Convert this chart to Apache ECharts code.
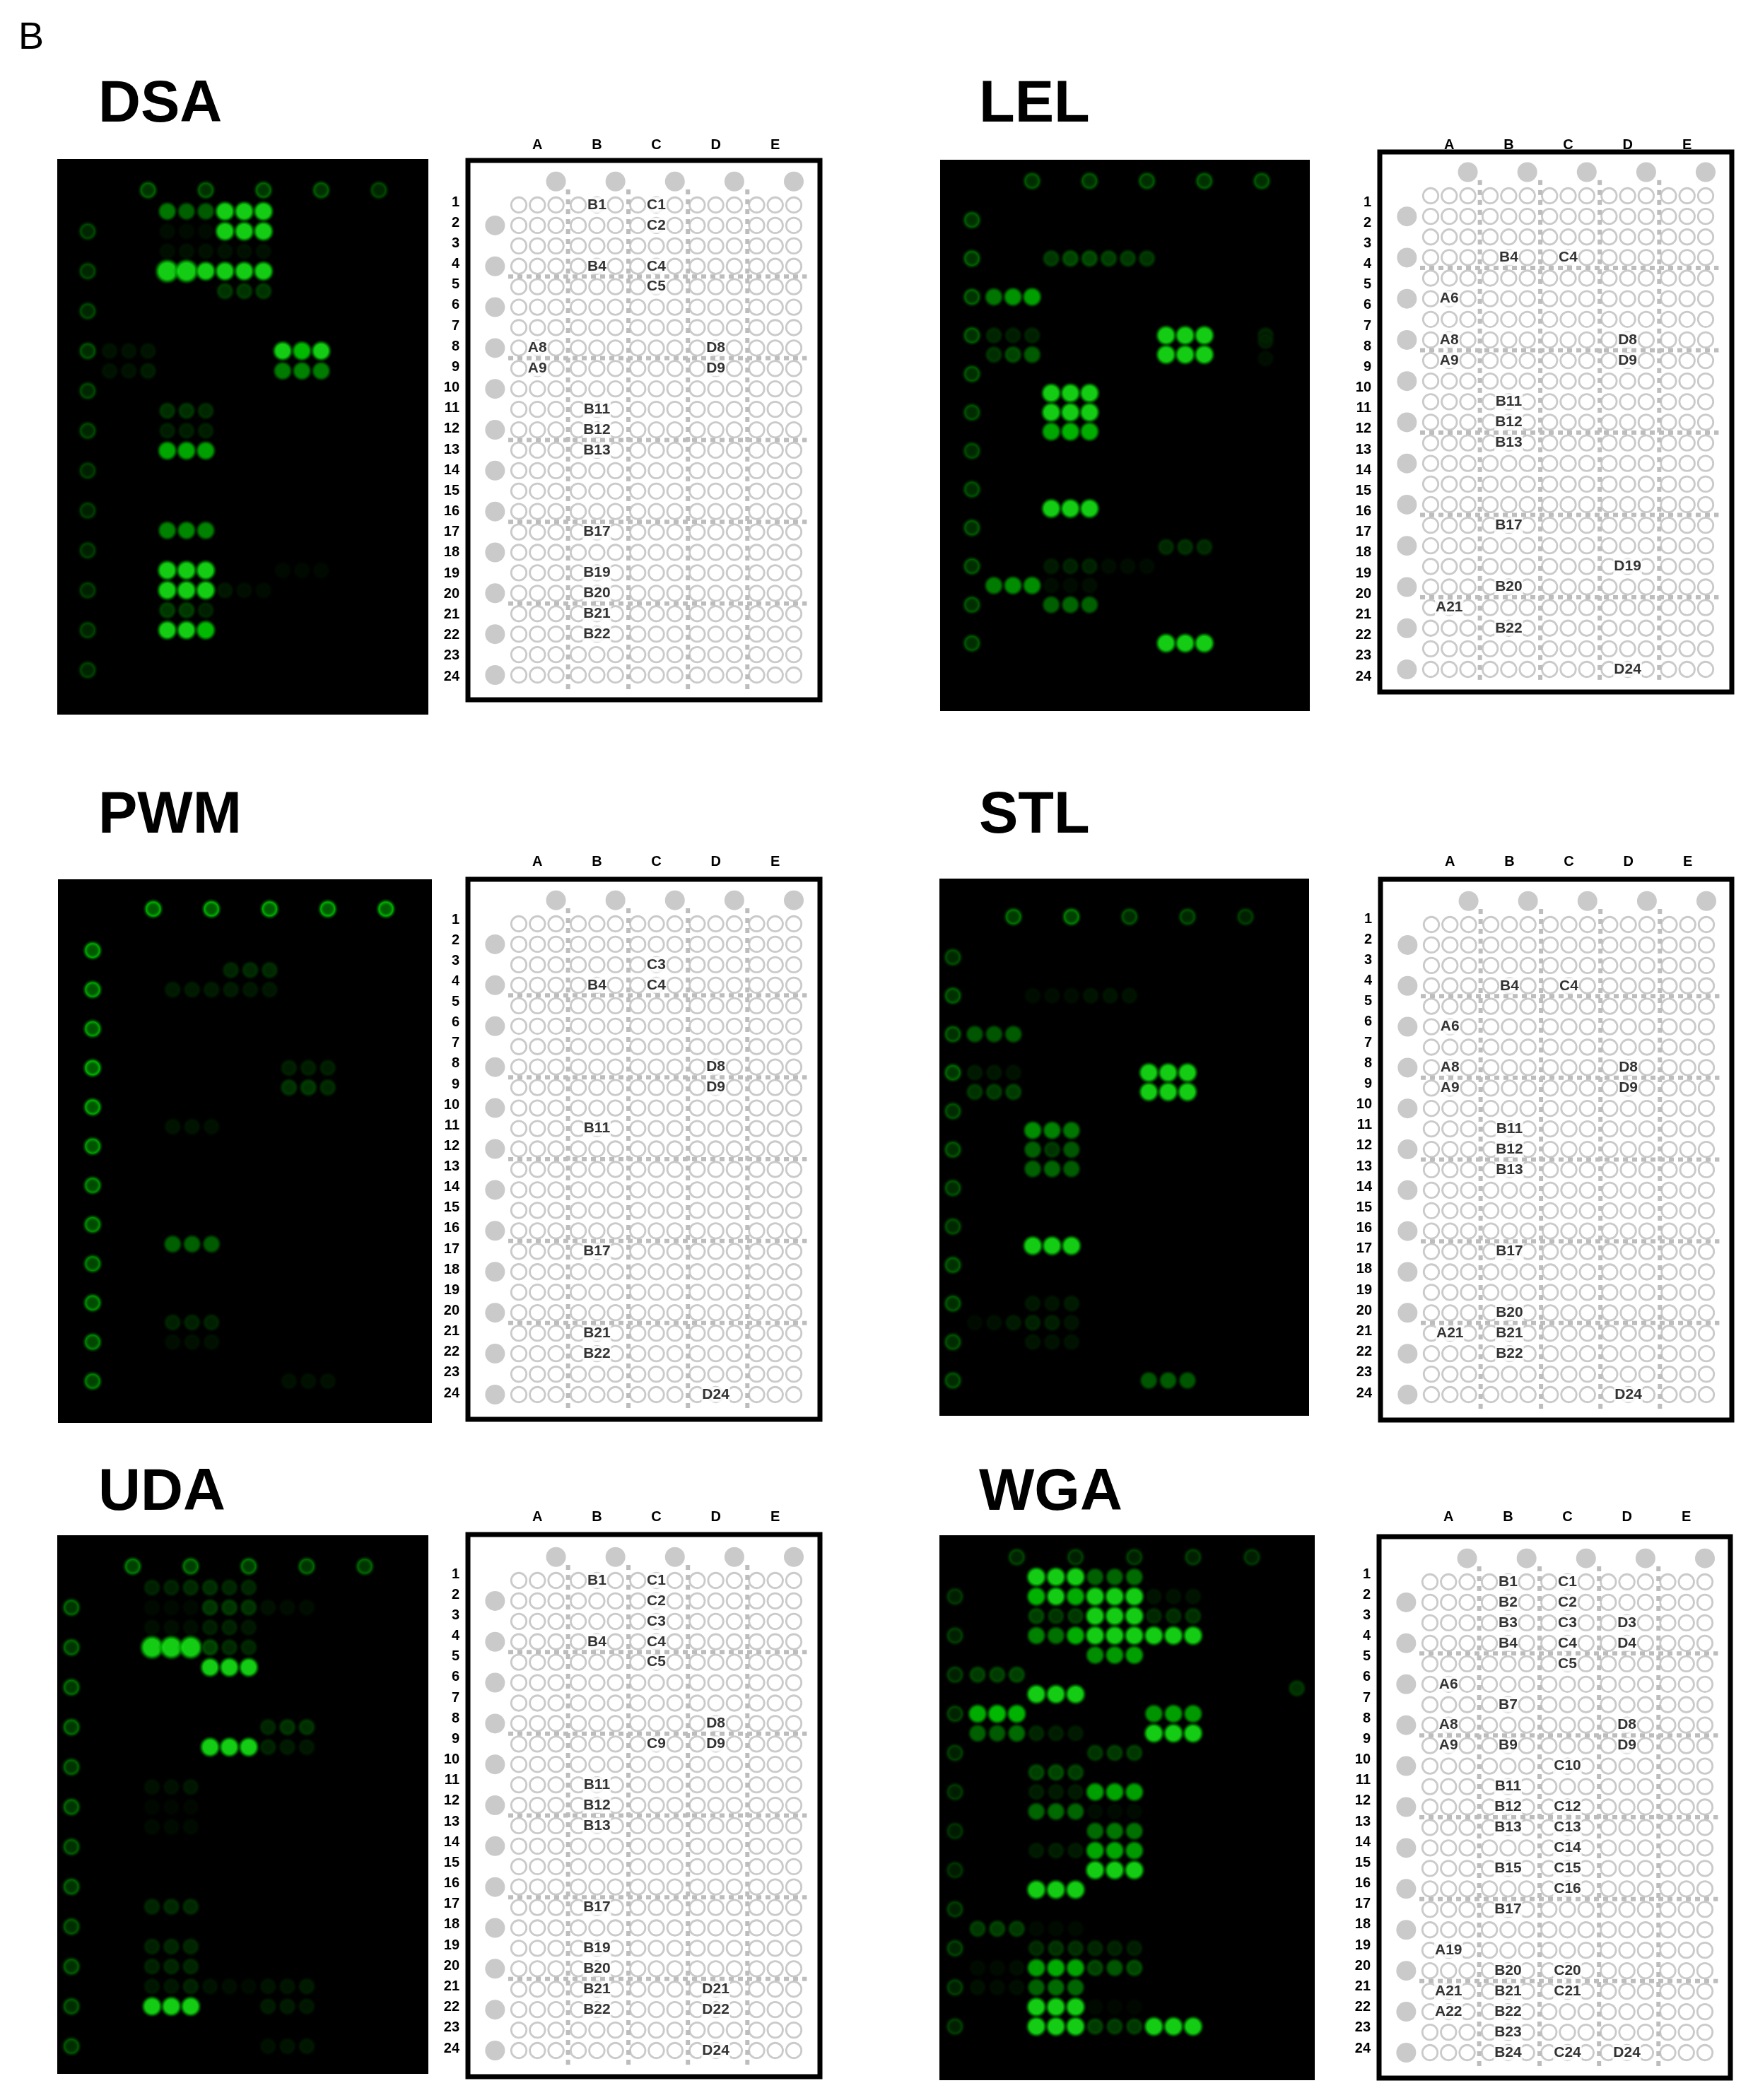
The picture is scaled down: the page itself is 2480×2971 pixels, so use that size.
<!DOCTYPE html>
<html>
<head>
<meta charset="utf-8">
<style>
  html, body { margin: 0; padding: 0; background: #fff; }
  #chart { width: 2480px; height: 2971px; }
</style>
<script src="https://cdn.jsdelivr.net/npm/echarts@6/dist/echarts.min.js"></script>
</head>
<body>
<div id="chart"></div>
<script>
// plate structure
const columnLetters = ["A", "B", "C", "D", "E"];
const wellColumns = [1, 2, 3, 4.2, 5.2, 6.2, 7.4, 8.4, 9.4, 10.6, 11.6, 12.6, 13.8, 14.8, 15.8];
const wellRows = [1, 2, 3, 4, 5, 6, 7, 8, 9, 10, 11, 12, 13, 14, 15, 16, 17, 18, 19, 20, 21, 22, 23, 24];
const letterColumns = [2, 5.2, 8.4, 11.6, 14.8];
const topDotColumns = [3, 6.2, 9.4, 12.6, 15.8];
const sideDotRows = [2, 4, 6, 8, 10, 12, 14, 16, 18, 20, 22, 24];
const dividerColumns = [3.65, 6.9, 10.1, 13.3];
const dividerRows = [4.5, 8.5, 12.5, 16.5, 20.5];

// green level of the three replicate spots of a well, 0-255
const dsaSpots = [
  ["B1", 130, 110, 105], ["C1", 230, 235, 235], ["B2", 20, 18, 18], ["C2", 225, 235, 235],
  ["B3", 22, 25, 25], ["C3", 28, 25, 25], ["B4", 255, 255, 235], ["C4", 235, 240, 240],
  ["C5", 75, 75, 75], ["A8", 28, 28, 32], ["D8", 190, 185, 190], ["A9", 28, 28, 42],
  ["D9", 135, 140, 135], ["B11", 68, 70, 60], ["B12", 45, 45, 45], ["B13", 170, 170, 165],
  ["B17", 140, 145, 140], ["B19", 240, 240, 240], ["D19", 15, 15, 15], ["B20", 240, 240, 240],
  ["C20", 35, 22, 18], ["B21", 80, 80, 50], ["B22", 190, 190, 185]
];
const lelSpots = [
  ["B4", 80, 95, 95], ["C4", 85, 80, 75], ["A6", 130, 155, 165], ["A8", 55, 45, 50],
  ["A9", 70, 95, 105], ["D8", 240, 245, 240], ["D9", 235, 240, 235], ["B11", 225, 230, 215],
  ["B12", 205, 215, 205], ["B13", 170, 180, 175], ["B17", 240, 245, 245], ["D19", 60, 65, 60],
  ["B20", 40, 50, 50], ["C20", 20, 20, 18], ["A21", 135, 150, 150], ["B21", 20, 18, 22],
  ["B22", 110, 115, 110], ["D24", 210, 220, 215]
];
const pwmSpots = [
  ["C3", 55, 60, 60], ["B4", 40, 40, 40], ["C4", 40, 35, 35], ["D8", 45, 45, 45],
  ["D9", 70, 75, 60], ["B11", 30, 30, 25], ["B17", 110, 110, 105], ["B21", 50, 50, 50],
  ["B22", 22, 25, 25], ["D24", 25, 25, 25]
];
const stlSpots = [
  ["B4", 20, 20, 20], ["C4", 30, 30, 28], ["A6", 100, 100, 105], ["A8", 40, 35, 28],
  ["A9", 75, 80, 85], ["D8", 225, 235, 235], ["D9", 190, 200, 200], ["B11", 150, 140, 130],
  ["B12", 110, 75, 100], ["B13", 110, 115, 105], ["B17", 235, 240, 240], ["B20", 35, 30, 40],
  ["A21", 18, 25, 40], ["B21", 50, 45, 30], ["B22", 32, 28, 28], ["D24", 100, 105, 100]
];
const udaSpots = [
  ["B1", 50, 50, 60], ["C1", 65, 55, 55], ["B2", 15, 15, 15], ["C2", 75, 75, 70],
  ["D2", 25, 20, 20], ["B3", 22, 22, 22], ["C3", 45, 50, 35], ["B4", 255, 255, 255],
  ["C4", 90, 60, 55], ["C5", 190, 200, 195], ["D8", 55, 70, 70], ["C9", 235, 240, 240],
  ["D9", 50, 40, 35], ["B11", 25, 25, 35], ["B12", 12, 12, 12], ["B13", 18, 18, 18],
  ["B17", 55, 60, 60], ["B19", 50, 55, 55], ["B20", 50, 55, 55], ["B21", 35, 35, 50],
  ["C21", 28, 22, 18], ["D21", 30, 32, 40], ["B22", 230, 235, 235], ["D22", 40, 40, 35],
  ["D24", 25, 30, 35]
];
const wgaSpots = [
  ["B1", 215, 210, 205], ["C1", 110, 115, 120], ["B2", 180, 190, 175], ["C2", 220, 225, 225],
  ["D2", 30, 28, 30], ["B3", 90, 75, 80], ["C3", 235, 240, 235], ["D3", 60, 65, 70],
  ["B4", 140, 125, 175], ["C4", 215, 225, 220], ["D4", 225, 235, 240], ["C5", 150, 160, 165],
  ["A6", 85, 85, 90], ["B7", 235, 240, 240], ["A8", 175, 185, 180], ["D8", 155, 165, 160],
  ["A9", 110, 105, 120], ["B9", 55, 45, 40], ["D9", 215, 225, 225], ["C10", 75, 80, 80],
  ["B11", 90, 95, 85], ["B12", 45, 40, 40], ["C12", 165, 170, 165], ["B13", 115, 120, 115],
  ["C13", 20, 18, 18], ["C14", 120, 130, 125], ["B15", 40, 45, 40], ["C15", 170, 170, 160],
  ["C16", 220, 235, 235], ["B17", 240, 245, 245], ["A19", 80, 85, 80], ["B19", 18, 18, 18],
  ["B20", 60, 70, 65], ["C20", 55, 50, 45], ["A21", 18, 18, 22], ["B21", 165, 175, 170],
  ["C21", 90, 100, 95], ["A22", 25, 20, 22], ["B22", 110, 120, 115], ["B23", 240, 245, 240],
  ["C23", 15, 12, 12], ["B24", 215, 215, 210], ["C24", 85, 80, 80], ["D24", 235, 235, 240]
];

// smears on the membranes: column, row, green level
const lelSmears = [[15.2, 8, 50], [15.2, 8.3, 40], [15.2, 9.2, 22]];
const wgaSmears = [[17.3, 6.7, 70]];

// green level of the guide dots, top row then left column
const dsaTopGuide = [95, 90, 100, 90, 70];
const dsaSideGuide = [70, 70, 70, 80, 70, 70, 60, 60, 60, 60, 65, 65];
const lelTopGuide = [85, 85, 85, 90, 85];
const lelSideGuide = [90, 95, 95, 90, 85, 80, 75, 80, 85, 85, 85, 85];
const pwmTopGuide = [170, 170, 170, 170, 175];
const pwmSideGuide = [165, 160, 160, 175, 165, 155, 140, 140, 130, 140, 130, 125];
const stlTopGuide = [110, 120, 80, 75, 60];
const stlSideGuide = [75, 90, 90, 100, 80, 85, 80, 75, 90, 85, 80, 80];
const udaTopGuide = [120, 115, 110, 100, 100];
const udaSideGuide = [100, 100, 105, 105, 95, 100, 90, 95, 85, 90, 85, 85];
const wgaTopGuide = [65, 60, 60, 60, 55];
const wgaSideGuide = [55, 60, 60, 65, 60, 55, 50, 50, 60, 65, 60, 60];

// wells named on the plate maps
const dsaLabels = ["B1", "C1", "C2", "B4", "C4", "C5", "A8", "D8", "A9", "D9", "B11", "B12", "B13", "B17", "B19", "B20", "B21", "B22"];
const lelLabels = ["B4", "C4", "A6", "A8", "D8", "A9", "D9", "B11", "B12", "B13", "B17", "D19", "B20", "A21", "B22", "D24"];
const pwmLabels = ["C3", "B4", "C4", "D8", "D9", "B11", "B17", "B21", "B22", "D24"];
const stlLabels = ["B4", "C4", "A6", "A8", "D8", "A9", "D9", "B11", "B12", "B13", "B17", "B20", "A21", "B21", "B22", "D24"];
const udaLabels = ["B1", "C1", "C2", "C3", "B4", "C4", "C5", "D8", "C9", "D9", "B11", "B12", "B13", "B17", "B19", "B20", "B21", "D21", "B22", "D22", "D24"];
const wgaLabels = ["B1", "C1", "B2", "C2", "B3", "C3", "D3", "B4", "C4", "D4", "C5", "A6", "B7", "A8", "D8", "A9", "B9", "D9", "C10", "B11", "B12", "C12", "B13", "C13", "C14", "B15", "C15", "C16", "B17", "A19", "B20", "C20", "A21", "B21", "C21", "A22", "B22", "B23", "B24", "C24", "D24"];

// where each panel sits on the page
const panels = [
  { title: "DSA", titleAt: [134, 103], image: [81, 225, 606, 1011], spotX: [155, 536], spotY: [299, 948], guideAt: [124, 269],
    plate: [662, 227, 1160, 990], wellY: [290, 955], numberY: [286, 957], letterY: 205,
    spots: dsaSpots, smears: [], labels: dsaLabels, topGuide: dsaTopGuide, sideGuide: dsaSideGuide },
  { title: "LEL", titleAt: [1380, 103], image: [1330, 226, 1853, 1006], spotX: [1406, 1785], spotY: [284, 910], guideAt: [1375, 256],
    plate: [1952, 215, 2450, 979], wellY: [277, 947], numberY: [286, 957], letterY: 205,
    spots: lelSpots, smears: lelSmears, labels: lelLabels, topGuide: lelTopGuide, sideGuide: lelSideGuide },
  { title: "PWM", titleAt: [134, 1109], image: [82, 1244, 611, 2013], spotX: [162, 546], spotY: [1317, 1954], guideAt: [131, 1286],
    plate: [662, 1244, 1160, 2008], wellY: [1307, 1973], numberY: [1301, 1971], letterY: 1219,
    spots: pwmSpots, smears: [], labels: pwmLabels, topGuide: pwmTopGuide, sideGuide: pwmSideGuide },
  { title: "STL", titleAt: [1380, 1109], image: [1329, 1243, 1852, 2003], spotX: [1379, 1762], spotY: [1327, 1953], guideAt: [1348, 1297],
    plate: [1953, 1244, 2450, 2009], wellY: [1308, 1973], numberY: [1300, 1971], letterY: 1219,
    spots: stlSpots, smears: [], labels: stlLabels, topGuide: stlTopGuide, sideGuide: stlSideGuide },
  { title: "UDA", titleAt: [134, 2067], image: [81, 2172, 606, 2934], spotX: [133, 516], spotY: [2246, 2895], guideAt: [101, 2216],
    plate: [662, 2171, 1160, 2938], wellY: [2236, 2901], numberY: [2227, 2898], letterY: 2146,
    spots: udaSpots, smears: [], labels: udaLabels, topGuide: udaTopGuide, sideGuide: udaSideGuide },
  { title: "WGA", titleAt: [1380, 2067], image: [1329, 2172, 1860, 2943], spotX: [1383, 1771], spotY: [2231, 2867], guideAt: [1351, 2203],
    plate: [1951, 2174, 2448, 2940], wellY: [2238, 2904], numberY: [2227, 2898], letterY: 2146,
    spots: wgaSpots, smears: wgaSmears, labels: wgaLabels, topGuide: wgaTopGuide, sideGuide: wgaSideGuide }
];

const FONT = '"Liberation Sans", Arial, sans-serif';
const GREY = "#bdbdbd";

// axis range that puts value a at pixel pa and value b at pixel pb
function rangeFor(a, pa, b, pb, start, end) {
  let k = (b - a) / (pb - pa);
  return { min: a + (start - pa) * k, max: a + (end - pa) * k };
}

function hiddenAxis(gridIndex, range, inverse) {
  return {
    type: "value", gridIndex: gridIndex, min: range.min, max: range.max, inverse: !!inverse,
    axisLine: { show: false }, axisTick: { show: false }, axisLabel: { show: false }, splitLine: { show: false }
  };
}

function wellColumn(well) {
  return columnLetters.indexOf(well[0]) * 3 + 1;
}

function green(level, alpha) {
  return "rgba(0," + Math.round(level) + ",0," + alpha + ")";
}

// faint spots stay faint, strong ones saturate like the scanner did
function litLevel(g) {
  return Math.min(255, g * (0.85 + 0.55 * g / 255));
}

function spotPoint(col, row, g) {
  let lit = litLevel(g);
  let t = lit / 255;
  let core = lit > 235 ? "rgb(25,255,25)" : green(lit, 1);
  let centre = t < 0.4 ? green(lit * 0.82, 1) : core;
  return {
    value: [col, row, g],
    symbolSize: (g >= 255 ? 38 : 27 + 5 * t),
    itemStyle: { color: { type: "radial", x: 0.5, y: 0.5, r: 0.5, colorStops: [
      { offset: 0, color: centre }, { offset: 0.4, color: centre }, { offset: 0.6, color: core },
      { offset: 0.76, color: green(lit * 0.7, 0.85) }, { offset: 0.88, color: green(lit * 0.5, 0.35) },
      { offset: 1, color: green(lit * 0.3, 0) }
    ] } }
  };
}

function guidePoint(col, row, g) {
  let lit = Math.min(255, g * 1.28);
  return {
    value: [col, row, g],
    symbolSize: 30,
    itemStyle: { color: { type: "radial", x: 0.5, y: 0.5, r: 0.5, colorStops: [
      { offset: 0, color: green(lit * 0.5, 1) }, { offset: 0.42, color: green(lit * 0.55, 1) },
      { offset: 0.66, color: green(lit, 1) }, { offset: 0.82, color: green(lit * 0.6, 0.5) },
      { offset: 1, color: green(lit * 0.3, 0) }
    ] } }
  };
}

let titles = [{ text: "B", left: 21, top: 22, textStyle: { fontFamily: FONT, fontSize: 54, fontWeight: "normal", color: "#000" } }];
let grids = [], xAxes = [], yAxes = [], series = [];

panels.forEach(function (p) {
  titles.push({ text: p.title, left: p.titleAt[0], top: p.titleAt[1], textStyle: { fontFamily: FONT, fontSize: 83, fontWeight: "bold", color: "#000" } });

  // membrane image
  let g = grids.length;
  grids.push({ left: p.image[0], top: p.image[1], width: p.image[2] - p.image[0], height: p.image[3] - p.image[1],
    show: true, backgroundColor: "#000", borderWidth: 0 });
  let xIndex = xAxes.length, yIndex = yAxes.length;
  xAxes.push(hiddenAxis(g, rangeFor(1, p.spotX[0], 15, p.spotX[1], p.image[0], p.image[2])));
  yAxes.push(hiddenAxis(g, rangeFor(1, p.spotY[0], 24, p.spotY[1], p.image[1], p.image[3]), true));

  let pitchX = (p.spotX[1] - p.spotX[0]) / 14, pitchY = (p.spotY[1] - p.spotY[0]) / 23;
  let guideCol = 1 + (p.guideAt[0] - p.spotX[0]) / pitchX;
  let guideRow = 1 + (p.guideAt[1] - p.spotY[0]) / pitchY;
  let points = [];
  p.topGuide.forEach(function (v, i) { points.push(guidePoint(3 * (i + 1), guideRow, v)); });
  p.sideGuide.forEach(function (v, i) { points.push(guidePoint(guideCol, sideDotRows[i], v)); });
  p.spots.forEach(function (s) {
    let col = wellColumn(s[0]), row = Number(s[0].slice(1));
    points.push(spotPoint(col, row, s[1]), spotPoint(col + 1, row, s[2]), spotPoint(col + 2, row, s[3]));
  });
  p.smears.forEach(function (s) { points.push(spotPoint(s[0], s[1], s[2])); });
  series.push({ type: "scatter", xAxisIndex: xIndex, yAxisIndex: yIndex, data: points, silent: true, progressive: 0 });

  // plate map
  g = grids.length;
  grids.push({ left: p.plate[0], top: p.plate[1], width: p.plate[2] - p.plate[0], height: p.plate[3] - p.plate[1],
    show: true, backgroundColor: "#fff", borderColor: "#000", borderWidth: 7 });
  xIndex = xAxes.length; yIndex = yAxes.length;
  let xRange = rangeFor(1, p.plate[0] + 72, 15.8, p.plate[0] + 461, p.plate[0], p.plate[2]);
  let letterAxis = hiddenAxis(g, xRange);
  letterAxis.position = "top";
  letterAxis.axisLabel = {
    show: true, customValues: letterColumns, margin: p.plate[1] - p.letterY - 10,
    fontFamily: FONT, fontSize: 20, fontWeight: "bold", color: "#000",
    formatter: function (v) { return columnLetters[letterColumns.indexOf(v)]; }
  };
  xAxes.push(letterAxis);
  yAxes.push(hiddenAxis(g, rangeFor(1, p.wellY[0], 24, p.wellY[1], p.plate[1], p.plate[3]), true));
  let numberAxis = hiddenAxis(g, rangeFor(1, p.numberY[0], 24, p.numberY[1], p.plate[1], p.plate[3]), true);
  numberAxis.position = "left";
  numberAxis.axisLabel = {
    show: true, customValues: wellRows, margin: 12,
    fontFamily: FONT, fontSize: 20, fontWeight: "bold", color: "#000"
  };
  yAxes.push(numberAxis);

  dividerRows.forEach(function (r) {
    series.push({ type: "line", xAxisIndex: xIndex, yAxisIndex: yIndex, data: [[0.43, r], [16.5, r]], silent: true, showSymbol: false, z: 1,
      lineStyle: { color: GREY, width: 6, type: [7, 6] } });
  });
  dividerColumns.forEach(function (c) {
    series.push({ type: "line", xAxisIndex: xIndex, yAxisIndex: yIndex, data: [[c, 0.24], [c, 24.7]], silent: true, showSymbol: false, z: 1,
      lineStyle: { color: GREY, width: 6, type: [7, 7] } });
  });

  let wells = [];
  wellRows.forEach(function (r) { wellColumns.forEach(function (c) { wells.push([c, r]); }); });
  series.push({ type: "scatter", xAxisIndex: xIndex, yAxisIndex: yIndex, data: wells, silent: true, progressive: 0, z: 2,
    symbolSize: 21.5, itemStyle: { color: "rgba(255,255,255,0)", borderColor: GREY, borderWidth: 2.8 } });

  let dots = [];
  topDotColumns.forEach(function (c) { dots.push([c, -0.15]); });
  sideDotRows.forEach(function (r) { dots.push([-0.28, r]); });
  series.push({ type: "scatter", xAxisIndex: xIndex, yAxisIndex: yIndex, data: dots, silent: true, z: 2,
    symbolSize: 28, itemStyle: { color: GREY } });

  series.push({ type: "scatter", xAxisIndex: xIndex, yAxisIndex: yIndex, silent: true, z: 3,
    data: p.labels.map(function (w) { return { name: w, value: [wellColumns[wellColumn(w)], Number(w.slice(1))] }; }),
    symbolSize: 1, itemStyle: { color: "rgba(255,255,255,0)" },
    label: { show: true, position: "inside", formatter: "{b}", fontFamily: FONT, fontSize: 21, fontWeight: "bold", color: "#000",
      backgroundColor: "#fff", padding: [1, 1, 0, 1] } });
});

let chart = echarts.init(document.getElementById("chart"), null, { renderer: "canvas" });
chart.setOption({
  animation: false,
  backgroundColor: "#fff",
  title: titles,
  grid: grids,
  xAxis: xAxes,
  yAxis: yAxes,
  series: series
});
</script>
</body>
</html>
